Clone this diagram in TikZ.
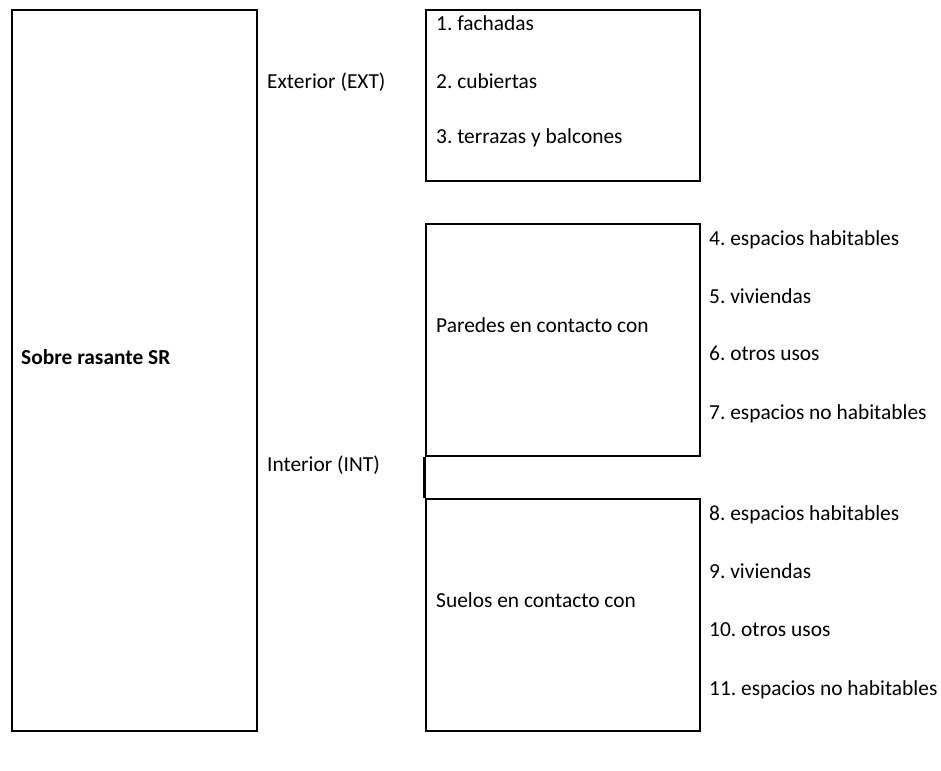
\documentclass[tikz,border=0pt]{standalone}
\usepackage{fontspec}
\setmainfont{Carlito}
\frenchspacing
\begin{document}
\begin{tikzpicture}[x=1pt,y=-1pt,
  box/.style={draw=black,line width=2.6pt,rectangle,inner sep=0pt},
  lbl/.style={anchor=base west,inner sep=0pt,font=\fontsize{21.4}{24}\selectfont}]
\useasboundingbox (0,0) rectangle (941,770);
\node[box,minimum width=245pt,minimum height=721pt] (sr) at (134.5,370.5) {};
\node[box,minimum width=274pt,minimum height=171pt] (ext) at (563,95.5) {};
\node[box,minimum width=274pt,minimum height=232pt] (par) at (563,340) {};
\node[box,minimum width=274pt,minimum height=232pt] (sue) at (563,615) {};
\draw[line width=2.6pt] (par.south west) -- (sue.north west);
\node[lbl,font=\fontsize{21.4}{24}\selectfont\bfseries] (tsr) at (21,364) {Sobre rasante SR};
\node[lbl] (text) at (267,89) {Exterior (EXT)};
\node[lbl] (tint) at (267,471) {Interior (INT)};
\node[lbl] (t1) at (436,31) {1. fachadas};
\node[lbl] (t2) at (436,89) {2. cubiertas};
\node[lbl] (t3) at (436,144) {3. terrazas y balcones};
\node[lbl] (tpar) at (436,332) {Paredes en contacto con};
\node[lbl] (tsue) at (436,607) {Suelos en contacto con};
\node[lbl] (t4) at (709,245) {4. espacios habitables};
\node[lbl] (t5) at (709,303) {5. viviendas};
\node[lbl] (t6) at (709,360) {6. otros usos};
\node[lbl] (t7) at (709,419) {7. espacios no habitables};
\node[lbl] (t8) at (709,520) {8. espacios habitables};
\node[lbl] (t9) at (709,578) {9. viviendas};
\node[lbl] (t10) at (709,636) {10. otros usos};
\node[lbl] (t11) at (709,695) {11. espacios no habitables};
\end{tikzpicture}
\end{document}
